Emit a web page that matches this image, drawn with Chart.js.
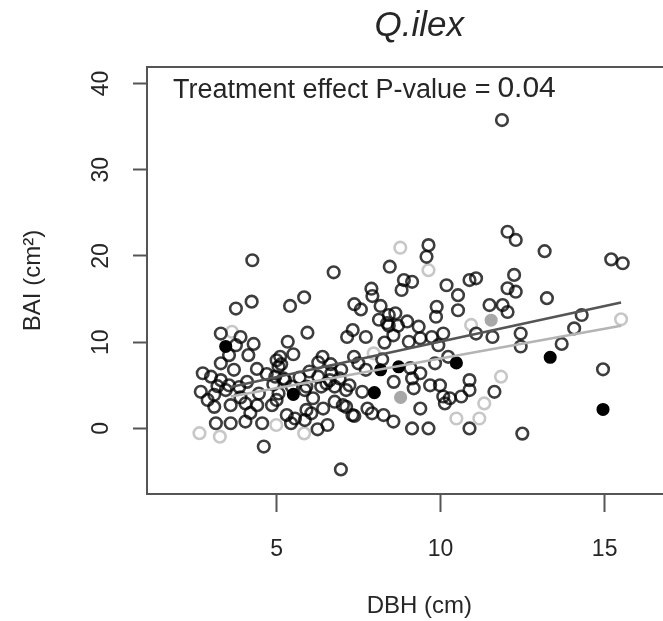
<!DOCTYPE html>
<html>
<head>
<meta charset="utf-8">
<script src="https://cdn.jsdelivr.net/npm/chart.js@4.4.1/dist/chart.umd.min.js"></script>
<style>
html,body{margin:0;padding:0;overflow:hidden;background:#fff;}
#wrap{position:absolute;left:0;top:0;width:700px;height:621px;}
</style>
</head>
<body>
<div id="wrap"><canvas id="c" width="700" height="621"></canvas></div>
<script>
// ---- data ----
const titleText = "Q.ilex";
const xTitle = "DBH (cm)";
const yTitle = "BAI (cm\u00B2)";
const noteText = "Treatment effect P-value =";
const noteValue = "0.04";
const xTicks = [5, 10, 15];
const yTicks = [0, 10, 20, 30, 40];

// dark open circles
const darkDBH = [4.26,3.76,4.24,5.41,5.84,6.74,8.45,8.88,8.81,7.89,7.92,7.37,7.57,8.17,8.42,8.62,8.12,8.42,8.7,8.56,8.29,5.94,5.34,5.51,5.11,5.14,6.27,6.65,6.97,6.62,7.15,7.32,7.72,7.36,7.49,7.72,8.22,8.57,3.3,3.76,4.14,3.7,3.3,2.75,3.0,2.69,3.55,3.86,4.1,4.46,5.26,5.06,5.86,6.36,6.77,3.55,3.3,3.1,3.45,3.6,3.1,4.05,4.41,4.86,3.15,3.6,4.05,4.56,4.61,5.0,5.44,5.86,6.25,6.55,7.37,6.96,8.56,7.61,7.12,6.42,6.06,6.77,8.37,5.06,5.21,6.11,7.77,7.91,8.26,5.91,5.56,5.31,6.27,6.52,6.67,6.92,7.12,7.22,7.31,7.02,5.46,5.0,4.96,5.91,10.53,10.53,9.88,9.86,11.49,11.89,12.04,11.08,11.58,12.44,12.44,8.98,9.33,9.03,9.38,9.73,10.08,9.93,10.23,9.83,9.08,9.38,9.13,9.18,9.68,9.98,10.08,10.28,10.13,10.63,10.88,10.88,11.64,9.38,9.13,9.63,10.88,12.49,12.04,12.29,13.17,15.2,15.55,9.63,9.57,9.13,10.18,10.88,11.08,12.24,12.04,12.29,13.24,14.3,14.07,13.69,14.95,11.87,4.7,4.4,4.9,4.2,3.9,2.9,3.2,4.3,3.9,6.0,5.7,6.4];
const darkBAI = [19.5,13.9,14.7,14.2,15.2,18.1,18.75,17.2,16.05,16.2,15.35,14.4,13.8,14.2,13.15,13.35,12.6,11.9,11.9,10.8,9.95,11.1,10.05,8.6,8.3,7.45,7.65,7.45,6.8,5.6,10.6,11.4,10.6,8.3,7.55,6.8,8.0,5.4,11.0,9.65,8.5,6.8,7.55,6.4,6.0,4.25,5.0,4.8,5.4,4.05,5.6,4.05,4.45,4.85,4.85,8.5,5.6,3.9,4.45,2.7,2.5,2.9,2.7,2.7,0.6,0.6,0.8,0.6,-2.1,7.9,0.6,0.97,-0.1,0.4,1.45,-4.75,0.8,4.25,2.5,2.3,1.75,3.1,12.2,7.15,5.8,3.5,2.3,1.75,1.55,2.15,1.15,1.55,6.0,5.2,6.4,5.8,4.45,5.0,1.55,2.7,4.85,3.3,6.0,4.85,15.45,13.7,14.1,12.95,14.3,14.3,13.5,11.0,10.6,11.0,9.5,12.4,11.8,10.05,10.45,10.6,11.0,9.65,8.3,7.55,7.0,6.4,5.8,4.65,5.0,5.0,3.7,3.5,2.9,3.7,5.6,4.45,4.25,2.3,0.0,0.0,0.0,-0.6,22.8,21.85,20.55,19.6,19.15,21.25,19.9,17.0,16.6,17.2,17.4,17.8,16.25,15.85,15.1,13.15,11.6,9.8,6.85,35.75,6.3,6.9,5.1,1.8,3.6,3.3,4.9,9.8,10.6,6.6,5.9,8.3];

// light open circles
const lightDBH = [8.77,9.63,3.64,2.65,3.27,4.99,5.84,7.96,10.93,11.33,11.84,11.18,10.48,15.5];
const lightBAI = [20.95,18.35,11.2,-0.55,-0.95,0.4,-0.57,8.7,12.0,2.9,6.0,1.15,1.15,12.65];

// filled black circles
const blackDBH = [3.45,5.51,7.98,8.17,8.72,10.48,13.34,14.95];
const blackBAI = [9.5,3.95,4.15,6.8,7.15,7.6,8.25,2.2];

// filled grey circles
const greyDBH = [8.78,11.54];
const greyBAI = [3.6,12.55];

// fitted lines (end points)
const fitDarkDBH = [3.6, 15.5];
const fitDarkBAI = [4.8, 14.6];
const fitLightDBH = [3.6, 15.5];
const fitLightBAI = [3.7, 11.9];

const pts = (xs, ys) => xs.map((x, i) => ({x: x, y: ys[i]}));

const FONT = '"Liberation Sans", Arial, Helvetica, sans-serif';
const TXT = '#262626';
const AXC = '#555555';

const framePlugin = {
  id: 'frame',
  afterDatasetsDraw(chart) {
    const a = chart.chartArea, ctx = chart.ctx;
    ctx.save();
    ctx.strokeStyle = AXC;
    ctx.lineWidth = 2;
    ctx.strokeRect(a.left, a.top, a.right - a.left, a.bottom - a.top);
    ctx.restore();
  },
  afterDraw(chart) {
    const ctx = chart.ctx;
    ctx.save();
    ctx.fillStyle = TXT;
    ctx.textBaseline = 'alphabetic';
    ctx.textAlign = 'left';
    ctx.font = '27px ' + FONT;
    ctx.fillText(noteText, 173, 98);
    const w = ctx.measureText(noteText).width;
    ctx.font = '30px ' + FONT;
    ctx.fillText(noteValue, 173 + w + 7, 97);
    ctx.restore();
  }
};

new Chart(document.getElementById('c'), {
  type: 'scatter',
  data: {
    datasets: [
      {label: 'fit dark', data: pts(fitDarkDBH, fitDarkBAI), showLine: true, pointRadius: 0, borderColor: '#555555', borderWidth: 2.5, order: 0},
      {label: 'fit light', data: pts(fitLightDBH, fitLightBAI), showLine: true, pointRadius: 0, borderColor: '#b4b4b4', borderWidth: 2.5, order: 0},
      {label: 'dark', data: pts(darkDBH, darkBAI), pointRadius: 5.8, pointBorderWidth: 2.6, borderColor: 'rgba(0,0,0,0.76)', backgroundColor: 'rgba(0,0,0,0)', order: 2},
      {label: 'light', data: pts(lightDBH, lightBAI), pointRadius: 5.8, pointBorderWidth: 2.6, borderColor: 'rgba(0,0,0,0.22)', backgroundColor: 'rgba(0,0,0,0)', order: 2},
      {label: 'black', data: pts(blackDBH, blackBAI), pointRadius: 5.8, pointBorderWidth: 1.5, borderColor: '#000', backgroundColor: '#000', order: 1},
      {label: 'grey', data: pts(greyDBH, greyBAI), pointRadius: 5.8, pointBorderWidth: 1.5, borderColor: '#a8a8a8', backgroundColor: '#a8a8a8', order: 1}
    ]
  },
  options: {
    responsive: false,
    animation: false,
    events: [],
    layout: {padding: {left: 0, right: 2, top: 0, bottom: 0}},
    plugins: {
      legend: {display: false},
      tooltip: {enabled: false},
      title: {
        display: true, text: titleText, fullSize: false, color: TXT,
        font: {family: FONT, size: 35, style: 'italic', weight: 'normal', lineHeight: 1.2},
        padding: {top: 5, bottom: 20}
      }
    },
    scales: {
      x: {
        type: 'linear', min: 1.05, max: 17.65,
        afterBuildTicks: (s) => { s.ticks = xTicks.map(v => ({value: v})); },
        afterFit: (s) => { s.height = 127; },
        border: {display: false},
        grid: {display: true, drawOnChartArea: false, drawTicks: true, tickLength: 18, tickColor: AXC, tickWidth: 2, color: AXC},
        ticks: {color: TXT, font: {family: FONT, size: 23}, padding: 24, maxRotation: 0, minRotation: 0, autoSkip: false},
        title: {display: true, text: xTitle, color: TXT, font: {family: FONT, size: 24}, padding: {top: 0, bottom: 0}}
      },
      y: {
        type: 'linear', min: -7.6, max: 41.9,
        afterBuildTicks: (s) => { s.ticks = yTicks.map(v => ({value: v})); },
        afterFit: (s) => { s.width = 147; },
        border: {display: false},
        grid: {display: true, drawOnChartArea: false, drawTicks: true, tickLength: 14, tickColor: AXC, tickWidth: 2, color: AXC},
        ticks: {color: TXT, font: {family: FONT, size: 23}, padding: 19, minRotation: 90, maxRotation: 90, crossAlign: 'center', autoSkip: false},
        title: {display: true, text: yTitle, color: TXT, font: {family: FONT, size: 24}, padding: {top: 18.6, bottom: 0}}
      }
    }
  },
  plugins: [framePlugin]
});
</script>
</body>
</html>
